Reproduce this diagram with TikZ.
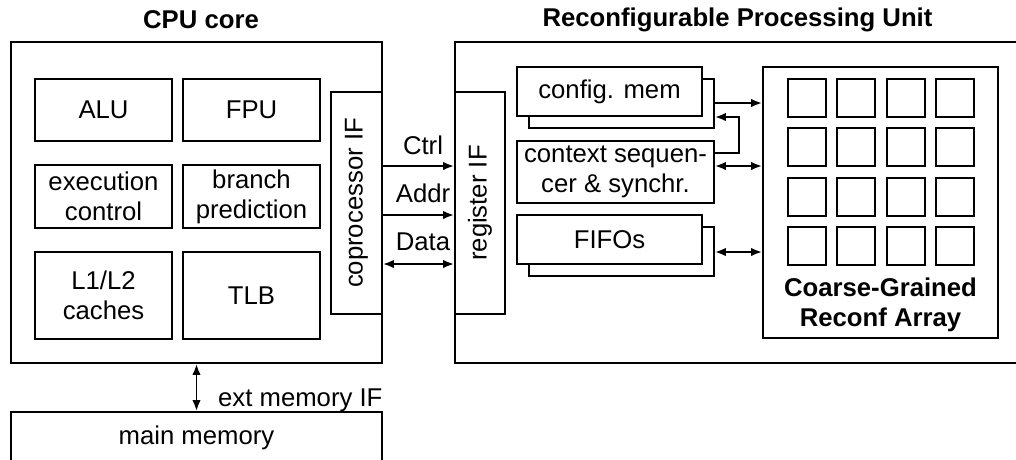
\documentclass[tikz,border=0pt]{standalone}
\usepackage{fontspec}
\setmainfont{Liberation Sans}
\usetikzlibrary{arrows.meta}
\tikzset{
  box/.style={draw, line width=1.9pt, inner sep=0pt, fill=white, align=center,
    font=\fontsize{25.7}{30}\selectfont},
  lbl/.style={inner sep=0pt, font=\fontsize{25.7}{30}\selectfont},
  ttl/.style={inner sep=0pt, align=center, font=\fontsize{25.7}{30}\selectfont\bfseries},
  cell/.style={draw, line width=1.9pt, minimum width=38pt, minimum height=38pt, inner sep=0pt},
  conn/.style={line width=1.9pt, -{Latex[length=11pt,width=8.5pt]}},
  bconn/.style={line width=1.9pt, {Latex[length=11pt,width=8.5pt]}-{Latex[length=11pt,width=8.5pt]}}
}
\begin{document}
\begin{tikzpicture}[x=1pt,y=-1pt]
\useasboundingbox (0,0) rectangle (1016,459);
\clip (0,0) rectangle (1016,459);

% titles
\node[ttl] (tcpu) at (201,20) {CPU core};
\node[ttl] (trpu) at (737.5,20) {Reconfigurable Processing Unit};

% CPU core
\node[box, minimum width=371pt, minimum height=321pt] (cpu) at (196.5,202.5) {};
\node[box, minimum width=137pt, minimum height=62pt] (alu) at (103.5,110) {ALU};
\node[box, minimum width=137pt, minimum height=62pt] (fpu) at (251.5,110) {FPU};
\node[box, minimum width=137pt, minimum height=63pt] (exe) at (103.5,196.5) {execution\\control};
\node[box, minimum width=137pt, minimum height=63pt] (bra) at (251.5,196.5) {branch\\prediction};
\node[box, minimum width=137pt, minimum height=87pt] (cac) at (103.5,295.5) {L1/L2\\caches};
\node[box, minimum width=137pt, minimum height=87pt] (tlb) at (251.5,295.5) {TLB};
\node[box, minimum width=51pt, minimum height=222pt] (cop) at (356.5,203) {};
\node[lbl, rotate=90] (copt) at (cop.center) {coprocessor IF};

% main memory
\node[box, minimum width=371pt, minimum height=70pt] (mem) at (196.5,447) {};
\node[lbl] (memt) at (196.5,438) {main memory};
\draw[bconn] (cpu.south) -- (mem.north);
\node[lbl, anchor=west] (extt) at (218,400) {ext memory IF};

% reconfigurable processing unit
\draw[line width=1.9pt] (1030,42) -- (455,42) -- (455,363) -- (1030,363);
\node[box, minimum width=50pt, minimum height=222pt] (reg) at (480,203) {};
\node[lbl, rotate=90] (regt) at (reg.center) {register IF};

\node[box, minimum width=185pt, minimum height=49pt] (cfgb) at (621.5,103.5) {};
\node[box, minimum width=185pt, minimum height=49pt] (cfg) at (609.5,91.5) {config. mem};
\node[box, minimum width=197pt, minimum height=62pt] (ctx) at (615.5,172) {context sequen-\\cer \& synchr.};
\node[box, minimum width=185pt, minimum height=49pt] (fifob) at (621.5,251.5) {};
\node[box, minimum width=185pt, minimum height=49pt] (fifo) at (609.5,239.5) {FIFOs};

% coarse-grained array
\node[box, minimum width=235pt, minimum height=271pt] (arr) at (880.5,202.5) {};
\foreach \i in {0,1,2,3}
  \foreach \j in {0,1,2,3}
    \node[cell] (c\i\j) at (807+49.3*\i, 98+49.3*\j) {};
\node[ttl] (arrt) at (880.5,305) {Coarse-Grained\\Reconf Array};

% coprocessor links
\coordinate (yctrl) at (0,166);
\coordinate (yaddr) at (0,215);
\coordinate (ydata) at (0,264);
\draw[conn] (cop.east |- yctrl) -- (reg.west |- yctrl);
\draw[conn] (cop.east |- yaddr) -- (reg.west |- yaddr);
\draw[bconn] (cop.east |- ydata) -- (reg.west |- ydata);
\node[lbl] (lctrl) at (423,145) {Ctrl};
\node[lbl] (laddr) at (423,193) {Addr};
\node[lbl] (ldata) at (423,242) {Data};

% links to the array
\coordinate (ycfg) at (0,103);
\coordinate (yseq) at (0,153);
\coordinate (yback) at (0,117);
\coordinate (yctx) at (0,166);
\coordinate (yfifo) at (0,252);
\draw[conn] (cfgb.east |- ycfg) -- (arr.west |- ycfg);
\draw[conn] (ctx.east |- yseq) -- (739,153) -- (739,117) -- (cfgb.east |- yback);
\draw[bconn] (ctx.east |- yctx) -- (arr.west |- yctx);
\draw[bconn] (fifob.east |- yfifo) -- (arr.west |- yfifo);
\end{tikzpicture}
\end{document}
